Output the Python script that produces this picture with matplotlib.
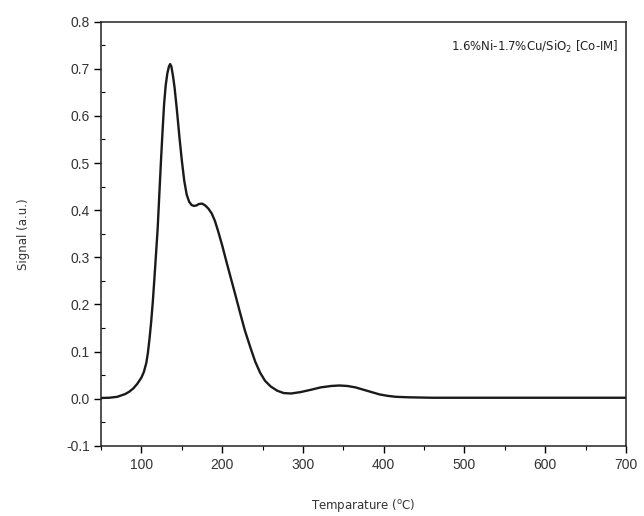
import matplotlib
matplotlib.use("Agg")
import matplotlib.pyplot as plt
from matplotlib.ticker import MultipleLocator

# TPR profile (temperature in C, signal in a.u.)
temp = [50, 60, 70, 80, 85, 90, 95, 100, 103, 106, 108, 110, 112, 114, 116, 118,
        120, 122, 124, 126, 128, 130, 132, 134, 135.5, 137, 139, 141, 144, 147,
        150, 153, 156, 159, 162, 165, 168, 171, 175, 179, 183, 187, 191, 195,
        200, 205, 210, 216, 222, 228, 235, 241, 247, 253, 260, 268, 276, 285,
        297, 310, 322, 335, 345, 355, 365, 375, 385, 395, 405, 415, 430, 460,
        500, 550, 600, 650, 700]
signal = [0.0015, 0.002, 0.004, 0.010, 0.015, 0.022, 0.032, 0.045, 0.057, 0.076,
          0.098, 0.128, 0.163, 0.205, 0.255, 0.307, 0.360, 0.430, 0.500, 0.565,
          0.625, 0.665, 0.690, 0.705, 0.710, 0.705, 0.685, 0.660, 0.610, 0.555,
          0.505, 0.462, 0.433, 0.418, 0.411, 0.409, 0.410, 0.413, 0.414, 0.410,
          0.403, 0.393, 0.377, 0.355, 0.325, 0.292, 0.260, 0.222, 0.183, 0.145,
          0.108, 0.078, 0.055, 0.038, 0.026, 0.017, 0.012, 0.011, 0.014, 0.019,
          0.024, 0.027, 0.028, 0.027, 0.024, 0.019, 0.014, 0.009, 0.006, 0.004,
          0.003, 0.002, 0.002, 0.002, 0.002, 0.002, 0.002]

sample = "1.6%Ni-1.7%Cu/SiO$_2$ [Co-IM]"

fig = plt.figure(figsize=(6.44, 5.16), dpi=100)
ax = fig.add_axes([0.157, 0.136, 0.815, 0.822])
ax.plot(temp, signal, color="#1a1a1a", lw=1.7, solid_joinstyle="round")

ax.set_xlim(50, 700)
ax.set_ylim(-0.1, 0.8)
ax.xaxis.set_major_locator(MultipleLocator(100))
ax.xaxis.set_minor_locator(MultipleLocator(50))
ax.yaxis.set_major_locator(MultipleLocator(0.1))
ax.yaxis.set_minor_locator(MultipleLocator(0.05))
ax.yaxis.set_major_formatter(plt.FuncFormatter(lambda v, p: f"{v:.1f}"))
ax.tick_params(which="major", direction="out", length=5, width=1,
               labelsize=10, pad=3, top=False, right=False)
ax.tick_params(axis="x", which="major", pad=4)
ax.tick_params(axis="y", which="minor", direction="in", length=3, width=0.8,
               right=False)
ax.tick_params(axis="x", which="minor", direction="out", length=3, width=0.8,
               top=False)
for lab in ax.get_xticklabels() + ax.get_yticklabels():
    lab.set_family("Liberation Sans")
    lab.set_color("#333333")
for s in ax.spines.values():
    s.set_linewidth(1.1)
    s.set_color("#222222")

ax.set_xlabel("Temparature ($^{\\rm o}$C)", fontsize=8.5, color="#333333", labelpad=18)
ax.set_ylabel("Signal (a.u.)", fontsize=8.5, color="#333333", labelpad=26)
ax.text(0.985, 0.96, sample, transform=ax.transAxes, ha="right", va="top",
        fontsize=8.5, color="#222222")

fig.savefig("out.png", dpi=100)
